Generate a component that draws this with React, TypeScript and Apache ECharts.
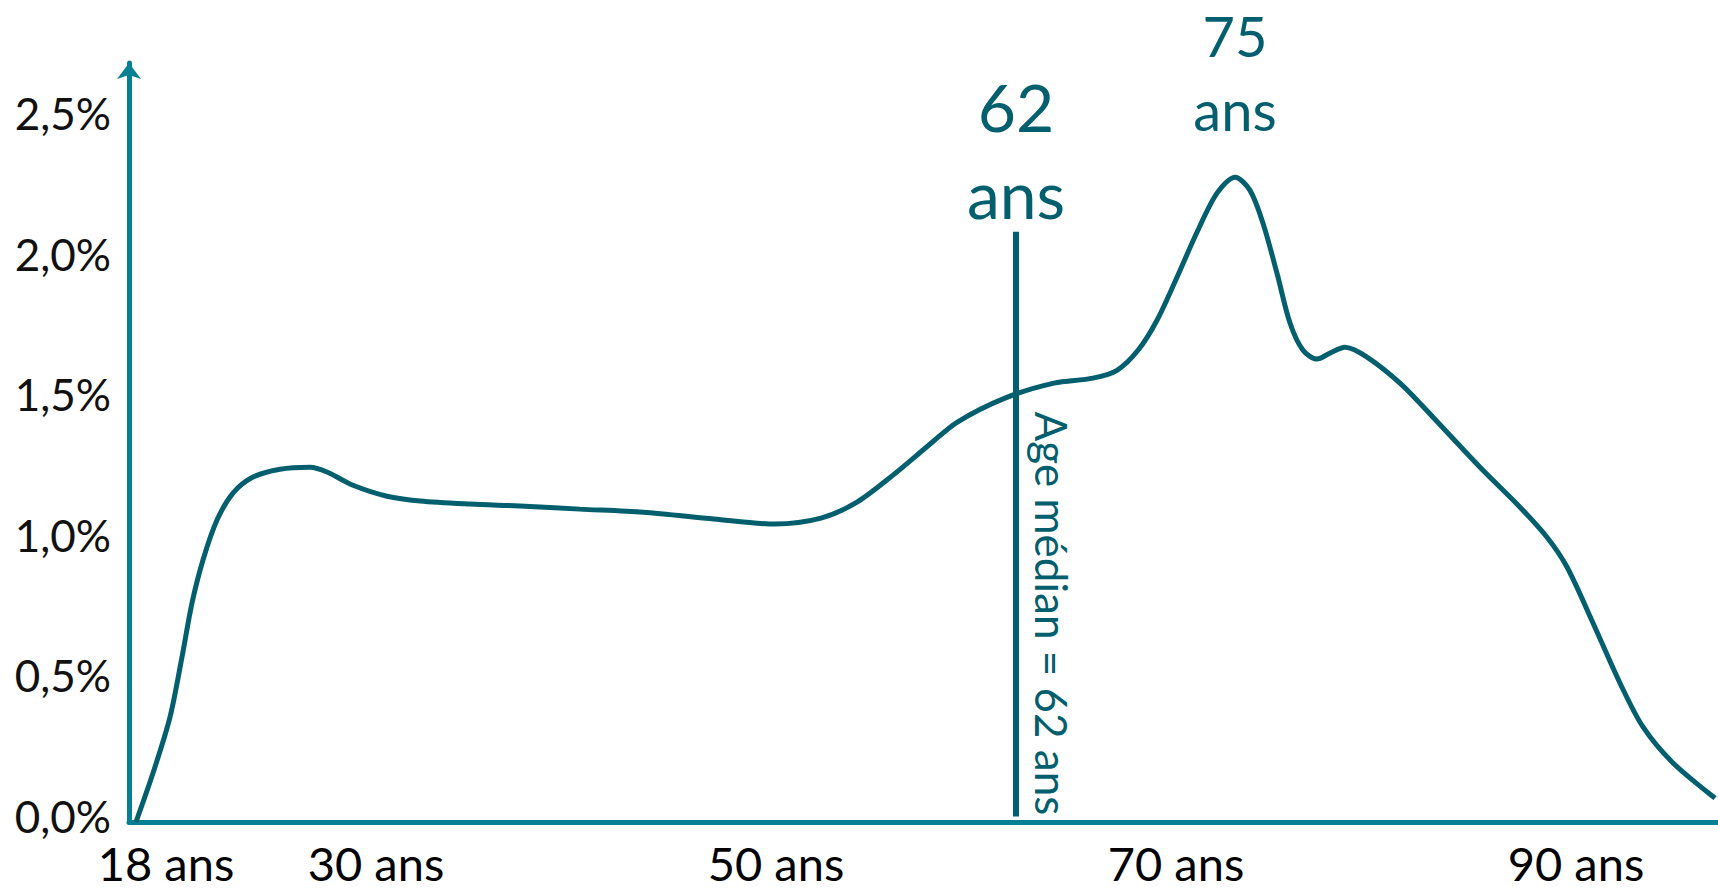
import React, { useEffect, useRef } from "react";
import * as echarts from "echarts";

// Age distribution (share of population, %)
const ages = [
  18, 18.85, 19.7, 20.3, 20.8, 21.35, 22.05, 22.85, 23.85, 25.2, 26.7, 27.55, 28.85, 30.55, 32.2,
  34.7, 37.2, 40.2, 43.35, 46.9, 49.95, 52.25, 54.05, 55.85, 57.65, 59.05, 61.45, 63.9, 65.85,
  67.05, 68.1, 69.05, 70.05, 71.05, 72.05, 72.95, 73.7, 74.35, 75.05, 75.7, 76.35, 77.05, 77.7,
  78.45, 79.55, 81.2, 82.85, 85.2, 87.2, 88.55, 89.55, 90.85, 92.2, 93.35, 94.85, 96.95,
];
const shares = [
  0, 0.174, 0.373, 0.587, 0.779, 0.932, 1.074, 1.17, 1.227, 1.255, 1.262, 1.245, 1.198, 1.159,
  1.142, 1.131, 1.124, 1.113, 1.102, 1.078, 1.06, 1.081, 1.138, 1.234, 1.341, 1.422, 1.508, 1.561,
  1.579, 1.607, 1.678, 1.785, 1.938, 2.098, 2.237, 2.294, 2.247, 2.13, 1.952, 1.775, 1.678, 1.647,
  1.668, 1.689, 1.654, 1.561, 1.44, 1.262, 1.12, 1.013, 0.907, 0.708, 0.494, 0.338, 0.21, 0.085,
];
const xTickAges = [18, 30, 50, 70, 90];
const yTickValues = [0, 0.5, 1, 1.5, 2, 2.5];
const medianAge = 62;
const medianLineRange = [0.02, 2.1];
const peakAgeLabel = 75;
const medianText = "Age médian = 62 ans";

const CURVE = "#035e6e";
const AXIS = "#067f94";
const FONT = "Lato";

export default function App() {
  const ref = useRef<HTMLDivElement>(null);
  useEffect(() => {
    if (!ref.current) return;
    const chart = echarts.init(ref.current, null, { renderer: "svg" });
    const data = ages.map((a, i) => [a, shares[i]]);
    chart.setOption({
      animation: false,
      backgroundColor: "#ffffff",
      grid: { left: 129, right: 0, top: 63, bottom: 70, containLabel: false, outerBoundsMode: "none" },
      xAxis: {
        type: "value",
        min: 17.65,
        max: 97.1,
        splitLine: { show: false },
        axisTick: { show: false },
        axisLine: { show: true, onZero: false, lineStyle: { color: AXIS, width: 5 } },
        axisLabel: {
          customValues: xTickAges,
          formatter: (v: number) => (v === xTickAges[0] ? `{pad| }{t|${v} ans}` : `{t|${v} ans}`),
          color: "#000",
          fontFamily: FONT,
          fontSize: 47,
          margin: 17,
          rich: {
            pad: { width: 60, fontSize: 47, fontFamily: FONT },
            t: { color: "#000", fontFamily: FONT, fontSize: 47 },
          },
        },
      },
      yAxis: {
        type: "value",
        min: 0,
        max: 2.7,
        splitLine: { show: false },
        axisTick: { show: false },
        axisLine: {
          show: true,
          symbol: ["none", "arrow"],
          symbolSize: [18, 16],
          lineStyle: { color: AXIS, width: 5 },
        },
        axisLabel: {
          customValues: yTickValues,
          formatter: (v: number) => `${v.toFixed(1).replace(".", ",")}%`,
          color: "#111",
          fontFamily: FONT,
          fontSize: 44,
          margin: 18,
          verticalAlign: "bottom",
          lineHeight: 12,
        },
      },
      series: [
        {
          type: "line",
          data,
          smooth: 0.3,
          symbol: "none",
          lineStyle: { color: CURVE, width: 5 },
          markLine: {
            silent: true,
            symbol: ["none", "none"],
            lineStyle: { color: CURVE, width: 6, type: "solid" },
            label: {
              show: true,
              position: "end",
              distance: -5,
              formatter: `${medianAge}\nans`,
              color: CURVE,
              fontFamily: FONT,
              fontSize: 66,
              lineHeight: 87,
            },
            data: [[{ coord: [medianAge, medianLineRange[0]] }, { coord: [medianAge, medianLineRange[1]] }]],
          },
          markPoint: {
            silent: true,
            symbol: "circle",
            symbolSize: 1,
            itemStyle: { color: "rgba(0,0,0,0)" },
            label: {
              show: true,
              position: "top",
              distance: 30,
              formatter: `${peakAgeLabel}\nans`,
              color: CURVE,
              fontFamily: FONT,
              fontSize: 56,
              lineHeight: 74,
            },
            data: [{ type: "max" }],
          },
        },
      ],
    });
    const p = chart.convertToPixel({ xAxisIndex: 0, yAxisIndex: 0 }, [medianAge, 1.46]) as number[];
    chart.setOption({
      graphic: [
        {
          type: "text",
          x: p[0] + 36,
          y: p[1],
          rotation: -Math.PI / 2,
          style: {
            text: medianText,
            fill: CURVE,
            fontFamily: FONT,
            fontSize: 44,
            textAlign: "left",
            textVerticalAlign: "middle",
          },
        },
      ],
    });
    return () => chart.dispose();
  }, []);
  return (
    <div
      ref={ref}
      style={{ position: "fixed", left: 0, top: 0, width: 1718, height: 892, background: "#fff" }}
    />
  );
}
